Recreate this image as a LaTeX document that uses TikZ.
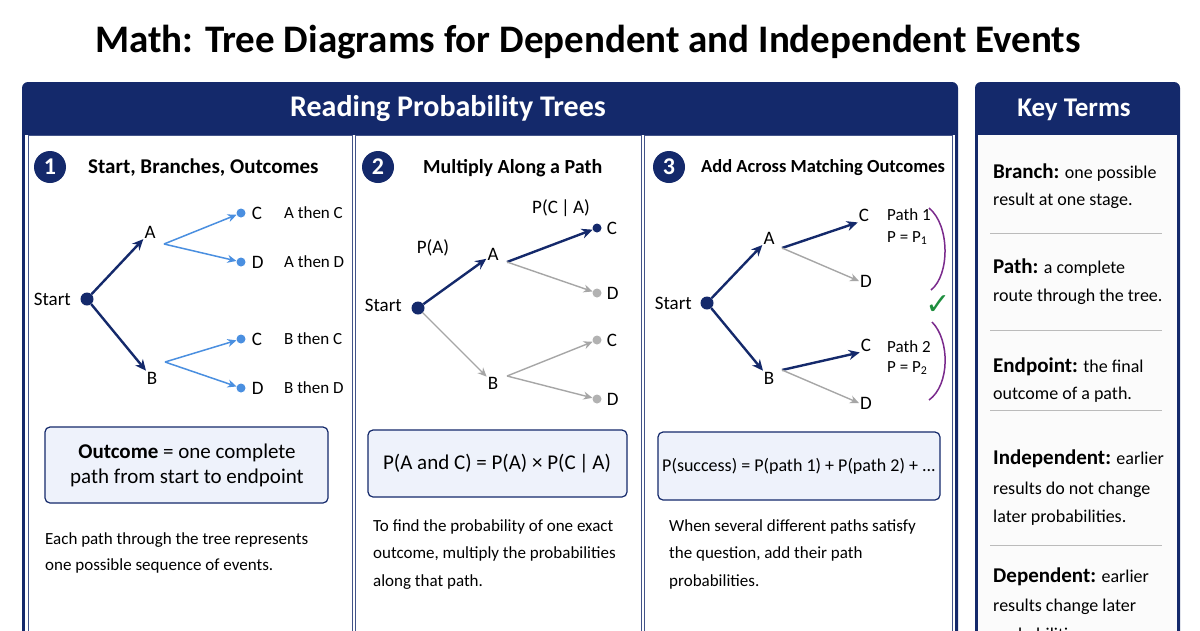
\documentclass[tikz,border=0pt]{standalone}
\usepackage{fontspec}
\setmainfont{Carlito}
\usetikzlibrary{arrows.meta}
\definecolor{navy}{HTML}{14296B}
\definecolor{lblue}{HTML}{4A8FE0}
\definecolor{boxfill}{HTML}{EEF2FB}
\definecolor{sepgray}{HTML}{BBBBBB}
\definecolor{pur}{HTML}{7A2A8C}
\definecolor{chk}{HTML}{1E8E3E}
\newcommand{\fs}[1]{\fontsize{#1}{#1}\selectfont}
\begin{document}
\begin{tikzpicture}[x=1pt,y=-1pt,
 lab/.style={font=\fs{19}, inner sep=1pt},
 num/.style={circle,fill=navy,text=white,minimum size=32pt,inner sep=0pt,font=\fs{24}\bfseries},
 stitle/.style={anchor=west,font=\fs{20}\bfseries,inner sep=0pt},
 dot/.style={circle,fill=navy,minimum size=13pt,inner sep=0pt},
 sdot/.style={circle,fill=#1,minimum size=9pt,inner sep=0pt},
 thick arr/.style={navy,line width=2.4pt,-{Stealth[length=11pt,width=10pt]}},
 blue arr/.style={lblue,line width=1.5pt,-{Stealth[length=9pt,width=8pt]}},
 gray arr/.style={gray!70,line width=1.4pt,-{Stealth[length=9pt,width=8pt]}},
 fbox/.style={draw=navy,line width=1.2pt,fill=boxfill,rounded corners=5pt},
 para/.style={anchor=west,font=\fs{17},inner sep=0pt},
 term/.style={anchor=west,font=\fs{18},inner sep=0pt},
 sep/.style={sepgray,line width=0.8pt}]
\useasboundingbox (0,0) rectangle (1200,630);
\fill[white] (0,0) rectangle (1200,630);
\node[font=\fs{39}\bfseries] (title) at (588,42) {Math: Tree Diagrams for Dependent and Independent Events};
% main panel
\fill[navy,rounded corners=6pt] (22,82) rectangle (958,660);
\fill[white] (25,135) rectangle (955,660);
\node[text=white,font=\fs{30}\bfseries] (mainhead) at (448,109) {Reading Probability Trees};
\draw[navy!80,line width=1pt] (28,135) rectangle (352,660);
\draw[navy!80,line width=1pt] (355,135) rectangle (641,660);
\draw[navy!80,line width=1pt] (644,135) rectangle (952,660);
% key terms panel
\fill[navy,rounded corners=6pt] (975,82) rectangle (1180,660);
\fill[white!97!gray] (978,135) rectangle (1177,660);
\node[text=white,font=\fs{27}\bfseries] (khead) at (1074,110) {Key Terms};

% ---------- panel 1
\node[num] (n1) at (50,167) {1};
\node[stitle,font=\fs{21}\bfseries] (t1) at (88,168) {Start, Branches, Outcomes};
\node[dot] (s1) at (87,299) {};
\node[lab,anchor=east] (s1l) at (72,299) {Start};
\node[lab] (a1) at (150,232) {A};
\node[lab] (b1) at (152,378) {B};
\node[sdot=lblue] (c1) at (241,213) {};
\node[sdot=lblue] (d1) at (241,262) {};
\node[sdot=lblue] (c2) at (241,339) {};
\node[sdot=lblue] (d2) at (241,388) {};
\foreach \n/\l in {c1/C,d1/D,c2/C,d2/D}{\node[lab,anchor=west] (\n l) at ([xshift=5pt]\n.east) {\l};}
\node[para] (ac) at (284,213) {A then C};
\node[para] (ad) at (284,262) {A then D};
\node[para] (bc) at (284,339) {B then C};
\node[para] (bd) at (284,388) {B then D};
\draw[thick arr] (s1) -- (a1);
\draw[thick arr] (s1) -- (b1);
\coordinate (a1o) at (164,244); \coordinate (b1o) at (165,362);
\draw[blue arr] (a1o) -- (c1); \draw[blue arr] (a1o) -- (d1);
\draw[blue arr] (b1o) -- (c2); \draw[blue arr] (b1o) -- (d2);
\draw[fbox] (45,427) rectangle (328,503);
\node[font=\fs{21},align=center] (o1) at (187,465) {\textbf{Outcome} = one complete\\[4pt]path from start to endpoint};
\node[para] (p1a) at (45,540) {Each path through the tree represents};
\node[para] (p1b) at (45,566) {one possible sequence of events.};

% ---------- panel 2
\node[num] (n2) at (378,167) {2};
\node[stitle] (t2) at (423,168) {Multiply Along a Path};
\node[dot] (s2) at (418,308) {};
\node[lab,anchor=east] (s2l) at (403,305) {Start};
\node[lab] (a2) at (493,254) {A};
\node[lab] (b2) at (493,383) {B};
\node[lab] (pa) at (433,248) {P(A)};
\node[lab] (pca) at (561,208) {P(C\,|\,A)};
\node[sdot=navy] (c3) at (597,228) {};
\node[sdot=gray!60] (d3) at (597,293) {};
\node[sdot=gray!60] (c4) at (597,340) {};
\node[sdot=gray!60] (d4) at (597,399) {};
\foreach \n/\l in {c3/C,d3/D,c4/C,d4/D}{\node[lab,anchor=west] (\n l) at ([xshift=4pt]\n.east) {\l};}
\draw[thick arr] (s2) -- (a2);
\draw[gray arr] (s2) -- (b2);
\coordinate (a2o) at (507,262); \coordinate (b2o) at (507,376);
\draw[thick arr] (a2o) -- (c3); \draw[gray arr] (a2o) -- (d3);
\draw[gray arr] (b2o) -- (c4); \draw[gray arr] (b2o) -- (d4);
\draw[fbox] (368,430) rectangle (627,497);
\node[font=\fs{21}] (f2) at (497,464) {P(A and C) = P(A) × P(C\,|\,A)};
\node[para] (p2a) at (373,527) {To find the probability of one exact};
\node[para] (p2b) at (373,554) {outcome, multiply the probabilities};
\node[para] (p2c) at (373,582) {along that path.};

% ---------- panel 3
\node[num] (n3) at (669,167) {3};
\node[stitle,font=\fs{18.5}\bfseries] (t3) at (701,168) {Add Across Matching Outcomes};
\node[dot] (s3) at (707,303) {};
\node[lab,anchor=east] (s3l) at (693,303) {Start};
\node[lab] (a3) at (769,238) {A};
\node[lab] (b3) at (769,378) {B};
\node[lab] (c5) at (864,215) {C};
\node[lab] (d5) at (866,281) {D};
\node[lab] (c6) at (866,345) {C};
\node[lab] (d6) at (866,403) {D};
\draw[thick arr] (s3) -- (a3);
\draw[thick arr] (s3) -- (b3);
\coordinate (a3o) at (782,248); \coordinate (b3o) at (782,370);
\draw[thick arr] (a3o) -- (c5.south west); \draw[gray arr] (a3o) -- (d5.west);
\draw[thick arr] (b3o) -- (c6.south west); \draw[gray arr] (b3o) -- (d6.west);
\node[para] (pt1) at (887,215) {Path 1};
\node[para] (pp1) at (887,238) {P = P\textsubscript{1}};
\node[para] (pt2) at (887,347) {Path 2};
\node[para] (pp2) at (887,368) {P = P\textsubscript{2}};
\coordinate (br1a) at (929,208); \coordinate (br1b) at (931,290);
\coordinate (br2a) at (932,322); \coordinate (br2b) at (929,400);
\draw[pur,line width=1.5pt] (br1a) .. controls (950,225) and (950,275) .. (br1b);
\draw[pur,line width=1.5pt] (br2a) .. controls (950,340) and (950,385) .. (br2b);
\node[text=chk,font=\fs{30}\bfseries] (chk) at (938,305) {\fontspec{DejaVu Sans}✓};
\draw[fbox] (658,432) rectangle (940,500);
\node[font=\fs{18}] (f3) at (799,466) {P(success) = P(path 1) + P(path 2) + ...};
\node[para] (p3a) at (669,527) {When several different paths satisfy};
\node[para] (p3b) at (669,554) {the question, add their path};
\node[para] (p3c) at (669,582) {probabilities.};

% ---------- key terms
\node[term] (k1a) at (993,173) {\textbf{\fs{21}Branch:} one possible};
\node[term] (k1b) at (993,201) {result at one stage.};
\draw[sep] (990,233) -- (1162,233);
\node[term] (k2a) at (993,268) {\textbf{\fs{21}Path:} a complete};
\node[term] (k2b) at (993,297) {route through the tree.};
\draw[sep] (990,330) -- (1162,330);
\node[term] (k3a) at (993,367) {\textbf{\fs{21}Endpoint:} the final};
\node[term] (k3b) at (993,395) {outcome of a path.};
\draw[sep] (990,410) -- (1162,410);
\node[term] (k4a) at (993,459) {\textbf{\fs{21}Independent:} earlier};
\node[term] (k4b) at (993,490) {results do not change};
\node[term] (k4c) at (993,518) {later probabilities.};
\draw[sep] (990,545) -- (1162,545);
\node[term] (k5a) at (993,577) {\textbf{\fs{21}Dependent:} earlier};
\node[term] (k5b) at (993,607) {results change later};
\node[term] (k5c) at (993,636) {probabilities.};
\end{tikzpicture}
\end{document}
